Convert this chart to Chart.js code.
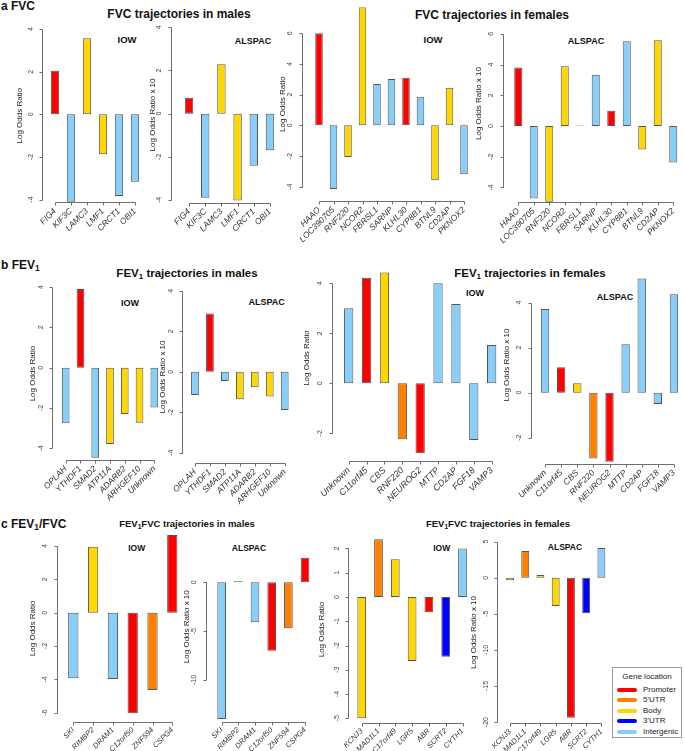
<!DOCTYPE html>
<html><head><meta charset="utf-8">
<script src="https://cdn.jsdelivr.net/npm/chart.js@4.4.1/dist/chart.umd.min.js"></script>
<style>
html,body{margin:0;padding:0;width:685px;height:751px;overflow:hidden;background:#fff;font-family:'Liberation Sans',Arial,sans-serif;}
.c{position:absolute;transform:translate(-50%,-50%);white-space:nowrap;font-weight:bold;color:#111;line-height:1;}
.l{position:absolute;white-space:nowrap;font-weight:bold;color:#111;line-height:1;}
.s{font-size:0.7em;vertical-align:-0.25em;}
canvas{position:absolute;}
#legend{position:absolute;left:612px;top:667px;width:70px;height:71px;border:1px solid #999;box-sizing:border-box;font-size:8px;color:#222;}
#legend .lt{position:absolute;left:0;width:100%;top:4px;text-align:center;}
#legend .li{position:absolute;left:4px;height:9px;}
#legend .sw{position:absolute;left:0;top:3px;width:20px;height:4px;border-radius:2px;}
#legend .tx{position:absolute;left:26px;top:0;line-height:10px;}
</style></head><body>
<div id="root"></div>
<script>
// ---------------- DATA ----------------
const locations = ['Promoter', "5'UTR", 'Body', "3'UTR", 'Intergenic'];

const fvcMaleGenes = ['FIG4','KIF3C','LAMC3','LMF1','CRCT1','OBI1'];
const fvcMaleLoc = ['Promoter','Intergenic','Body','Body','Intergenic','Intergenic'];
const fvcMaleIOW = [2.05, -4.1, 3.57, -1.88, -3.83, -3.16];
const fvcMaleALSPAC = [0.74, -3.89, 2.29, -4.02, -2.41, -1.69];

const fvcFemaleGenes = ['HAAO','LOC390705','RNF220','NCOR2','FBRSL1','SARNP','KLHL30','CYP8B1','BTNL9','CD2AP','PKNOX2'];
const fvcFemaleLoc = ['Promoter','Intergenic','Body','Body','Intergenic','Intergenic','Promoter','Intergenic','Body','Body','Intergenic'];
const fvcFemaleIOW = [6.0, -4.15, -2.07, 7.69, 2.69, 3.02, 3.1, 1.86, -3.58, 2.45, -3.19];
const fvcFemaleALSPAC = [3.8, -4.71, -4.93, 3.89, 0.04, 3.34, 1.0, 5.52, -1.52, 5.58, -2.37];

const fev1MaleGenes = ['OPLAH','YTHDF1','SMAD2','ATP11A','ADARB2','ARHGEF10','Unknown'];
const fev1MaleLoc = ['Intergenic','Promoter','Intergenic','Body','Body','Body','Intergenic'];
const fev1MaleIOW = [-2.76, 3.9, -4.47, -3.79, -2.3, -2.73, -1.97];
const fev1MaleALSPAC = [-1.15, 2.88, -0.46, -1.36, -0.77, -1.23, -1.89];

const fev1FemaleGenes = ['Unknown','C11orf45','CBS','RNF220','NEUROG2','MTTP','CD2AP','FGF18','VAMP3'];
const fev1FemaleLoc = ['Intergenic','Promoter','Body',"5'UTR",'Promoter','Intergenic','Intergenic','Intergenic','Intergenic'];
const fev1FemaleIOW = [3.0, 4.22, 4.43, -2.24, -2.8, 4.0, 3.17, -2.27, 1.53];
const fev1FemaleALSPAC = [3.72, 1.13, 0.42, -2.92, -3.07, 2.15, 5.08, -0.5, 4.37];

const ratioMaleGenes = ['SKI','RIMBP2','DRAM1','C12orf50','ZNF594','CSPG4'];
const ratioMaleLoc = ['Intergenic','Body','Intergenic','Promoter',"5'UTR",'Promoter'];
const ratioMaleIOW = [-3.94, 3.96, -3.98, -6.04, -4.64, 4.66];
const ratioMaleALSPAC = [-14.0, 0.1, -4.09, -7.0, -4.71, 2.52];

const ratioFemaleGenes = ['KCNJ3','MAD1L1','C17orf49','LGR5','ABR','SCRT2','CYTH1'];
const ratioFemaleLoc = ['Body',"5'UTR",'Body','Body','Promoter',"3'UTR",'Intergenic'];
const ratioFemaleIOW = [-5.0, 2.38, 1.55, -2.64, -0.63, -2.46, 2.0];
const ratioFemaleALSPAC = [-0.35, 3.7, 0.37, -3.92, -19.4, -4.93, 4.11];

const ticksPm4 = [-4, -2, 0, 2, 4];
const ticksFvcF = [-4, -2, 0, 2, 4, 6];
const ticksFev1F = [-2, 0, 2, 4];
const ticksRatioMIOW = [-6, -4, -2, 0, 2, 4];
const ticksRatioMALSPAC = [-10, -5, 0];
const ticksRatioFIOW = [-5, -4, -3, -2, -1, 0, 1, 2];
const ticksRatioFALSPAC = [-20, -15, -10, -5, 0, 5];

// ---------------- STYLE / LAYOUT ----------------
const FAMILY = "'Liberation Sans', Arial, sans-serif";
const COLORS = {'Promoter':'#FF0000', "5'UTR":'#FF8000', 'Body':'#FFD700', "3'UTR":'#0000FF', 'Intergenic':'#87CEFA'};
const T1 = 'Log Odds Ratio', T10 = 'Log Odds Ratio x 10';

const panels = [
  {g:fvcMaleGenes, v:fvcMaleIOW, loc:fvcMaleLoc, ticks:ticksPm4, ymin:-4.13, ymax:4, l:47, r:143, top:29.1, bottom:202.3, axisX:42.3, titleX:20, yt:T1, xf:8.5},
  {g:fvcMaleGenes, v:fvcMaleALSPAC, loc:fvcMaleLoc, ticks:ticksPm4, ymin:-4.12, ymax:4, l:180.9, r:278.1, top:27.3, bottom:202.6, axisX:171, titleX:153, yt:T10, xf:8.5},
  {g:fvcFemaleGenes, v:fvcFemaleIOW, loc:fvcFemaleLoc, ticks:ticksFvcF, ymin:-4.93, ymax:7.69, l:311.75, r:471.25, top:7.3, bottom:201, axisX:302, titleX:282.3, yt:T1, xf:8.5},
  {g:fvcFemaleGenes, v:fvcFemaleALSPAC, loc:fvcFemaleLoc, ticks:ticksFvcF, ymin:-4.95, ymax:7.88, l:510.5, r:681, top:4.9, bottom:202.1, axisX:502.7, titleX:478.3, yt:T10, xf:8.5},
  {g:fev1MaleGenes, v:fev1MaleIOW, loc:fev1MaleLoc, ticks:ticksPm4, ymin:-4.58, ymax:4, l:58.3, r:161.7, top:287.1, bottom:460, axisX:52.3, titleX:33.3, yt:T1, xf:8.5},
  {g:fev1MaleGenes, v:fev1MaleALSPAC, loc:fev1MaleLoc, ticks:ticksPm4, ymin:-4.52, ymax:4, l:187.5, r:292.2, top:290.7, bottom:463.2, axisX:182.3, titleX:162.7, yt:T10, xf:8.5},
  {g:fev1FemaleGenes, v:fev1FemaleIOW, loc:fev1FemaleLoc, ticks:ticksFev1F, ymin:-3.11, ymax:5.13, l:339.75, r:500.6, top:255.05, bottom:461.05, axisX:331.7, titleX:306.7, yt:T1, xf:9},
  {g:fev1FemaleGenes, v:fev1FemaleALSPAC, loc:fev1FemaleLoc, ticks:ticksFev1F, ymin:-3.17, ymax:5.63, l:537, r:682, top:266, bottom:464, axisX:531, titleX:506.7, yt:T10, xf:8.5},
  {g:ratioMaleGenes, v:ratioMaleIOW, loc:ratioMaleLoc, ticks:ticksRatioMIOW, ymin:-6.54, ymax:4.66, l:63.4, r:182.2, top:535, bottom:721.7, axisX:56.7, titleX:33.3, yt:T1, xf:7.5},
  {g:ratioMaleGenes, v:ratioMaleALSPAC, loc:ratioMaleLoc, ticks:ticksRatioMALSPAC, ymin:-14.27, ymax:5.18, l:213.3, r:313.4, top:531.7, bottom:721.7, axisX:206, titleX:186.7, yt:T10, xf:7.5},
  {g:ratioFemaleGenes, v:ratioFemaleIOW, loc:ratioFemaleLoc, ticks:ticksRatioFIOW, ymin:-5.18, ymax:2.5, l:353.3, r:470.9, top:536.3, bottom:722.7, axisX:348.3, titleX:321.7, yt:T1, xf:7.5},
  {g:ratioFemaleGenes, v:ratioFemaleALSPAC, loc:ratioFemaleLoc, ticks:ticksRatioFALSPAC, ymin:-20.17, ymax:5, l:502.4, r:609, top:541.6, bottom:723.3, axisX:497.3, titleX:473.3, yt:T10, xf:7.5}
];

const texts = [
  {x:1, y:0, html:'a FVC', size:12, left:true},
  {x:1, y:259, html:'b FEV<span class="s">1</span>', size:12, left:true},
  {x:1, y:518, html:'c FEV<span class="s">1</span>/FVC', size:12, left:true},
  {x:179, y:14, html:'FVC trajectories in males', size:12},
  {x:492, y:15, html:'FVC trajectories in females', size:12},
  {x:187, y:275, html:'FEV<span class="s">1</span> trajectories in males', size:11.5},
  {x:530, y:275, html:'FEV<span class="s">1</span> trajectories in females', size:11.5},
  {x:187, y:525, html:'FEV<span class="s">1</span>FVC trajectories in males', size:9.5},
  {x:498, y:525, html:'FEV<span class="s">1</span>FVC trajectories in females', size:9.5},
  {x:127, y:40, html:'IOW', size:9.5},
  {x:253, y:41, html:'ALSPAC', size:9},
  {x:433, y:40, html:'IOW', size:9.5},
  {x:586, y:41, html:'ALSPAC', size:9},
  {x:130, y:302.7, html:'IOW', size:9},
  {x:266.7, y:301.7, html:'ALSPAC', size:9},
  {x:475, y:293.3, html:'IOW', size:9},
  {x:615, y:296.7, html:'ALSPAC', size:9},
  {x:136.7, y:547.7, html:'IOW', size:8.5},
  {x:249, y:547.7, html:'ALSPAC', size:8.5},
  {x:441.7, y:547.7, html:'IOW', size:8.5},
  {x:565, y:547.3, html:'ALSPAC', size:8.5}
];

const root = document.getElementById('root');
texts.forEach(t => {
  const d = document.createElement('div');
  d.className = t.left ? 'l' : 'c';
  d.style.left = t.x + 'px'; d.style.top = t.y + 'px';
  d.style.fontSize = t.size + 'px';
  d.innerHTML = t.html;
  root.appendChild(d);
});

// Legend
const lg = document.createElement('div'); lg.id = 'legend';
lg.innerHTML = '<div class="lt">Gene location</div>';
locations.forEach((loc, i) => {
  const it = document.createElement('div'); it.className = 'li';
  it.style.top = (17 + i * 10.4) + 'px';
  it.innerHTML = '<div class="sw" style="background:' + COLORS[loc] + '"></div><div class="tx">' + loc + '</div>';
  lg.appendChild(it);
});
root.appendChild(lg);

// R-style axes: y line spans first..last tick, x line spans first..last bar
const rAxes = {
  id: 'rAxes',
  afterDatasetsDraw(chart) {
    const gap = chart.$rGap;
    if (gap === undefined) return;
    const ctx = chart.ctx, area = chart.chartArea;
    const x = chart.scales.x, y = chart.scales.y;
    const ax = Math.round(area.left - gap) + 0.5;
    const tv = y.ticks.map(t => t.value);
    ctx.save();
    ctx.strokeStyle = '#6e6e6e'; ctx.lineWidth = 1;
    ctx.beginPath();
    ctx.moveTo(ax, Math.round(y.getPixelForValue(Math.max(...tv))) + 0.5);
    ctx.lineTo(ax, Math.round(y.getPixelForValue(Math.min(...tv))) + 0.5);
    for (const v of tv) {
      const py = Math.round(y.getPixelForValue(v)) + 0.5;
      ctx.moveTo(ax, py); ctx.lineTo(ax - 3, py);
    }
    const by = Math.round(area.bottom) + 0.5;
    const n = chart.data.labels.length;
    ctx.moveTo(Math.round(x.getPixelForValue(0)) + 0.5, by);
    ctx.lineTo(Math.round(x.getPixelForValue(n - 1)) + 0.5, by);
    for (let i = 0; i < n; i++) {
      const px = Math.round(x.getPixelForValue(i)) + 0.5;
      ctx.moveTo(px, by); ctx.lineTo(px, by + 3);
    }
    ctx.stroke();
    ctx.restore();
  }
};

const mctx = document.createElement('canvas').getContext('2d');
function textW(s, size) { mctx.font = size + 'px ' + FAMILY; return mctx.measureText(s).width; }

panels.forEach(p => {
  const PADTOP = 30;
  const cl = Math.round(p.titleX - 4.8);
  const ct = Math.round(p.top - PADTOP);
  const cw = Math.ceil(p.r + 4 - cl);
  const ch = Math.min(751, Math.ceil(p.bottom + 60)) - ct;
  const cv = document.createElement('canvas');
  cv.width = cw; cv.height = ch;
  cv.style.left = cl + 'px'; cv.style.top = ct + 'px';
  cv.style.width = cw + 'px'; cv.style.height = ch + 'px';
  root.appendChild(cv);
  const widest = Math.max(...p.ticks.map(v => textW(String(v), 7)));
  const gap = p.l - p.axisX;
  const tickPad = gap + 11.5 - widest / 2;
  const yW = p.l - cl;
  const xH = ch - (p.bottom - ct);
  const chart = new Chart(cv, {
    type: 'bar',
    data: {
      labels: p.g,
      datasets: [{
        data: p.v,
        backgroundColor: p.loc.map(c => COLORS[c]),
        borderColor: '#555',
        borderWidth: 1,
        borderSkipped: false,
        barPercentage: 0.52,
        categoryPercentage: 1
      }]
    },
    options: {
      responsive: false,
      animation: false,
      devicePixelRatio: 1,
      layout: {padding: {left: 0, top: p.top - ct, right: cw - (p.r - cl), bottom: 0}},
      plugins: {legend: {display: false}, tooltip: {enabled: false}},
      scales: {
        x: {
          type: 'category', offset: true,
          grid: {display: false, drawTicks: false}, border: {display: false},
          ticks: {autoSkip: false, minRotation: 45, maxRotation: 45, padding: 4, color: '#333',
                  font: {family: FAMILY, size: p.xf, style: 'italic'}},
          afterFit: s => { s.height = xH; }
        },
        y: {
          type: 'linear', min: p.ymin, max: p.ymax, bounds: 'data',
          grid: {display: false, drawTicks: false}, border: {display: false},
          afterBuildTicks: s => { s.ticks = p.ticks.map(v => ({value: v})); },
          ticks: {minRotation: 90, maxRotation: 90, crossAlign: 'center', padding: tickPad, color: '#444',
                  font: {family: FAMILY, size: 7}, callback: v => String(v)},
          title: {display: true, text: p.yt, color: '#222', padding: 0, font: {family: FAMILY, size: 8}},
          afterFit: s => { s.width = yW; }
        }
      }
    },
    plugins: [rAxes]
  });
  chart.$rGap = gap;
  chart.draw();
});
</script>
</body></html>
